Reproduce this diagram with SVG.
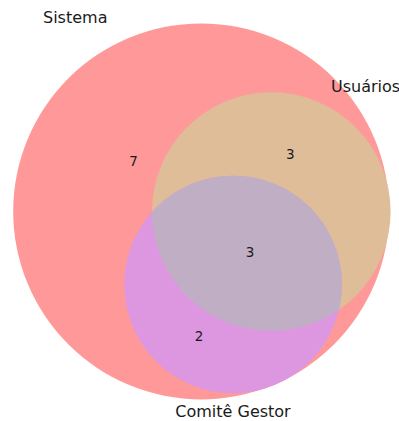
<svg xmlns="http://www.w3.org/2000/svg" width="399" height="421" viewBox="0 0 399 421">
  <style>
    .lbl { font-family: "DejaVu Sans", sans-serif; font-size: 16px; fill: #1a1a1a; }
    .num { font-family: "DejaVu Sans", sans-serif; font-size: 13.5px; fill: #1a1a1a; text-anchor: middle; }
  </style>
  <defs>
    <clipPath id="clipU">
      <circle cx="271.3" cy="211.6" r="119.3"/>
    </clipPath>
  </defs>
  <rect width="399" height="421" fill="#ffffff"/>
  <g id="sistema">
    <circle cx="201.2" cy="211.4" r="188" fill="#ff9999"/>
  </g>
  <g id="usuarios">
    <circle cx="271.3" cy="211.6" r="119.3" fill="#dfbd99"/>
  </g>
  <g id="comite">
    <circle cx="233.1" cy="284.5" r="108.8" fill="#dc97e0"/>
    <circle cx="233.1" cy="284.5" r="108.8" fill="#c0aec4" clip-path="url(#clipU)"/>
  </g>
  <g id="labels">
    <text class="lbl" x="43" y="23.3">Sistema</text>
    <text class="lbl" x="331" y="92.3">Usuários</text>
    <text class="lbl" x="233" y="417" text-anchor="middle">Comitê Gestor</text>
    <text class="num" x="133.5" y="165.7">7</text>
    <text class="num" x="290.3" y="159.3">3</text>
    <text class="num" x="250" y="257">3</text>
    <text class="num" x="199" y="340.7">2</text>
  </g>
</svg>
